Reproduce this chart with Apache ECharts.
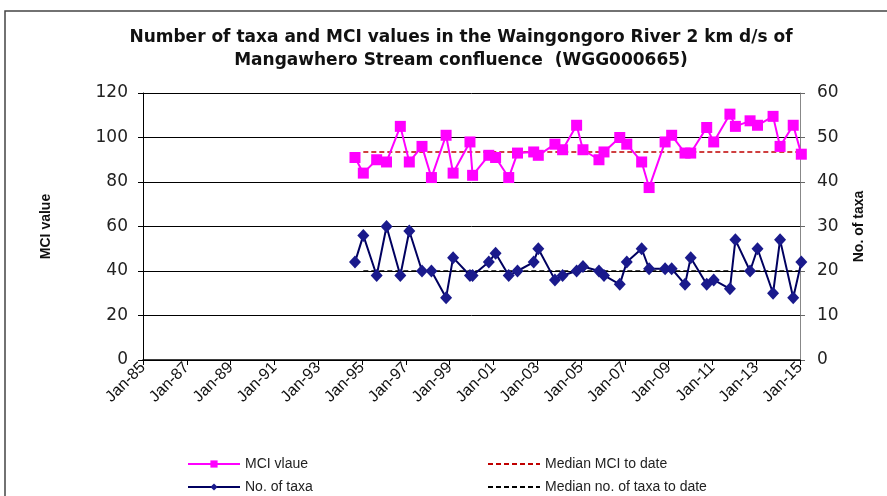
<!DOCTYPE html>
<html>
<head>
<meta charset="utf-8">
<script src="https://cdn.jsdelivr.net/npm/echarts@6/dist/echarts.min.js"></script>
<style>
  html, body { margin: 0; padding: 0; background: #fff; }
  #main { width: 887px; height: 496px; }
</style>
</head>
<body>
<div id="main"></div>
<script>
// sample dates as decimal years
var sampleDates = [
  1994.68, 1995.06, 1995.67, 1996.12, 1996.75, 1997.16, 1997.74, 1998.17, 1998.84, 1999.16,
  1999.93, 2000.05, 2000.79, 2001.10, 2001.70, 2002.10, 2002.84, 2003.05, 2003.81, 2004.16,
  2004.80, 2005.09, 2005.82, 2006.05, 2006.77, 2007.09, 2007.77, 2008.11, 2008.84, 2009.14,
  2009.75, 2010.01, 2010.74, 2011.06, 2011.80, 2012.05, 2012.72, 2013.06, 2013.77, 2014.09,
  2014.69, 2015.06
];
var mciValues = [
  91, 84, 90, 89, 105, 89, 96, 82, 101, 84,
  98, 83, 92, 91, 82, 93, 93.5, 92, 97, 94.5,
  105.5, 94.5, 90, 93.5, 100, 97, 89, 77.5, 98, 101,
  93, 93, 104.5, 98, 110.5, 105, 107.5, 105.5, 109.5, 96,
  105.5, 92.5
];
var taxaValues = [
  22, 28, 19, 30, 19, 29, 20, 20, 14, 23,
  19, 19, 22, 24, 19, 20, 22, 25, 18, 19,
  20, 21, 20, 19, 17, 22, 25, 20.5, 20.5, 20.5,
  17, 23, 17, 18, 16, 27, 20, 25, 15, 27,
  14, 22
];
var medianMci = 93.5;
var medianTaxa = 20;
var medianSpan = [1995.06, 2015];

var legendNames = ['MCI vlaue', 'No. of taxa', 'Median MCI to date', 'Median no. of taxa to date'];

function pairs(xs, ys) {
  return xs.map(function (x, i) { return [x, ys[i]]; });
}
function flat(v) {
  return medianSpan.map(function (x) { return [x, v]; });
}

var font = 'Liberation Sans, Arial, sans-serif';
var wide = 'DejaVu Sans, sans-serif';

// one legend per entry so they sit in two columns like the original
function legendAt(name, left, top, noSymbol) {
  var item = { name: name };
  if (noSymbol) item.itemStyle = { opacity: 0 };
  return {
    data: [item],
    left: left,
    top: top,
    itemWidth: 52,
    itemHeight: 9,
    itemGap: 6,
    textStyle: { fontSize: 14, color: '#222', fontFamily: font }
  };
}

var myChart = echarts.init(document.getElementById('main'));

var option = {
  animation: false,
  backgroundColor: '#fff',
  textStyle: { fontFamily: font },
  title: {
    text: 'Number of taxa and MCI values in the Waingongoro River 2 km d/s of\nMangawhero Stream confluence  (WGG000665)',
    left: 456,
    top: 21,
    textAlign: 'center',
    textStyle: { fontSize: 17, fontWeight: 'bold', color: '#111', lineHeight: 23, fontFamily: wide }
  },
  graphic: [{
    type: 'rect',
    shape: { x: 5, y: 11, width: 900, height: 500 },
    style: { fill: 'none', stroke: '#444', lineWidth: 1.5 },
    silent: true
  }],
  grid: { left: 143, right: 87, top: 93, bottom: 136 },
  legend: [
    legendAt(legendNames[0], 182, 452, false),
    legendAt(legendNames[1], 182, 475, false),
    legendAt(legendNames[2], 482, 452, true),
    legendAt(legendNames[3], 482, 475, true)
  ],
  xAxis: {
    type: 'value',
    min: 1985,
    max: 2015,
    interval: 2,
    axisLine: { lineStyle: { color: '#000', width: 1.5 } },
    axisTick: { length: 5, lineStyle: { color: '#000' } },
    splitLine: { show: false },
    axisLabel: {
      rotate: 45,
      fontSize: 16,
      color: '#111',
      margin: 5,
      formatter: function (v) { return 'Jan-' + String(Math.round(v) % 100).padStart(2, '0'); }
    }
  },
  yAxis: [{
    type: 'value',
    min: 0,
    max: 120,
    interval: 20,
    name: 'MCI value',
    nameLocation: 'middle',
    nameGap: 90,
    nameTextStyle: { fontSize: 14, fontWeight: 'bold', color: '#111' },
    axisLine: { show: true, lineStyle: { color: '#000' } },
    axisTick: { show: true, length: 5, lineStyle: { color: '#000' } },
    splitLine: { lineStyle: { color: '#000', width: 1 } },
    axisLabel: { fontSize: 17, color: '#222', margin: 15, fontFamily: wide }
  }, {
    type: 'value',
    min: 0,
    max: 60,
    interval: 10,
    position: 'right',
    name: 'No. of taxa',
    nameLocation: 'middle',
    nameGap: 52,
    nameTextStyle: { fontSize: 14, fontWeight: 'bold', color: '#111' },
    axisLine: { show: true, lineStyle: { color: '#888' } },
    axisTick: { show: true, length: 5, lineStyle: { color: '#666' } },
    splitLine: { show: false },
    axisLabel: { fontSize: 17, color: '#222', margin: 17, fontFamily: wide }
  }],
  series: [{
    name: 'Median MCI to date',
    type: 'line',
    yAxisIndex: 0,
    data: flat(medianMci),
    symbol: 'none',
    lineStyle: { color: '#c00000', width: 1.5, type: [5, 3] },
    itemStyle: { color: '#c00000' }
  }, {
    name: 'Median no. of taxa to date',
    type: 'line',
    yAxisIndex: 1,
    data: flat(medianTaxa),
    symbol: 'none',
    lineStyle: { color: '#000', width: 1.5, type: [5, 3] },
    itemStyle: { color: '#000' }
  }, {
    name: 'MCI vlaue',
    type: 'line',
    yAxisIndex: 0,
    clip: false,
    data: pairs(sampleDates, mciValues),
    symbol: 'rect',
    symbolSize: 11,
    lineStyle: { color: '#ff00ff', width: 2 },
    itemStyle: { color: '#ff00ff' }
  }, {
    name: 'No. of taxa',
    type: 'line',
    yAxisIndex: 1,
    clip: false,
    data: pairs(sampleDates, taxaValues),
    symbol: 'diamond',
    symbolSize: [12, 13],
    lineStyle: { color: '#000060', width: 2 },
    itemStyle: { color: '#1a1a8c' }
  }]
};

myChart.setOption(option);
</script>
</body>
</html>
